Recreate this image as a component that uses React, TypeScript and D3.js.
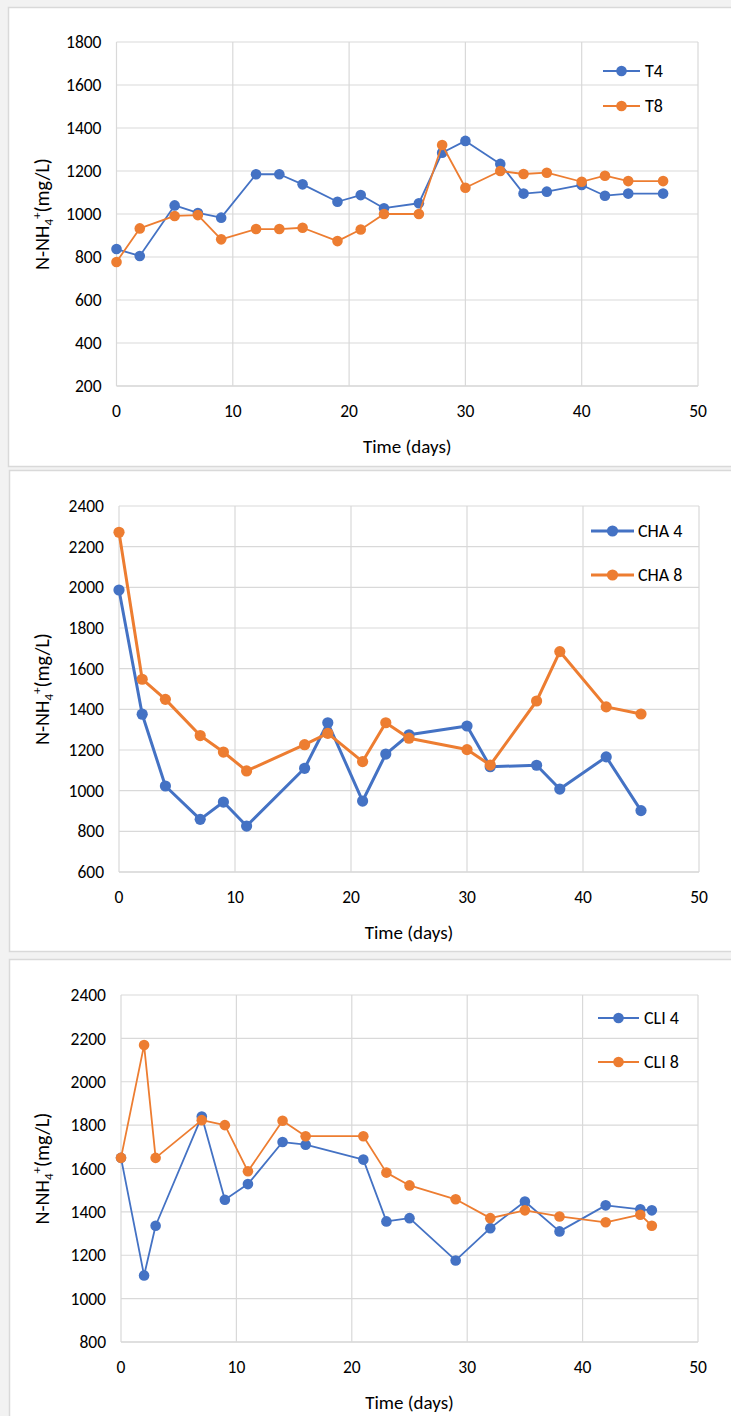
import * as d3 from 'd3';
import React, { useEffect, useRef } from 'react';

// --- data ---
const tDays = [0, 2, 5, 7, 9, 12, 14, 16, 19, 21, 23, 26, 28, 30, 33, 35, 37, 40, 42, 44, 47];
const t4Values = [837, 805, 1040, 1005, 983, 1185, 1185, 1138, 1057, 1088, 1027, 1050, 1285, 1340, 1233, 1095, 1104, 1135, 1085, 1095, 1095];
const t8Values = [777, 933, 991, 995, 882, 930, 930, 936, 874, 928, 1000, 1000, 1321, 1122, 1200, 1186, 1192, 1150, 1178, 1153, 1153];

const chaDays = [0, 2, 4, 7, 9, 11, 16, 18, 21, 23, 25, 30, 32, 36, 38, 42, 45];
const cha4Values = [1987, 1376, 1023, 859, 944, 826, 1110, 1334, 949, 1180, 1275, 1318, 1118, 1125, 1008, 1166, 902];
const cha8Values = [2271, 1548, 1449, 1271, 1190, 1097, 1226, 1282, 1143, 1334, 1258, 1202, 1126, 1441, 1684, 1412, 1377];

const cliDays = [0, 2, 3, 7, 9, 11, 14, 16, 21, 23, 25, 29, 32, 35, 38, 42, 45, 46];
const cli4Values = [1649, 1107, 1336, 1840, 1456, 1528, 1722, 1710, 1641, 1356, 1371, 1176, 1325, 1448, 1310, 1430, 1412, 1407];
const cli8Values = [1649, 2169, 1649, 1823, 1800, 1587, 1820, 1749, 1749, 1581, 1522, 1458, 1371, 1407, 1379, 1352, 1387, 1336];

const xTicks = [0, 10, 20, 30, 40, 50];
const yTicks1 = [200, 400, 600, 800, 1000, 1200, 1400, 1600, 1800];
const yTicks2 = [600, 800, 1000, 1200, 1400, 1600, 1800, 2000, 2200, 2400];
const yTicks3 = [800, 1000, 1200, 1400, 1600, 1800, 2000, 2200, 2400];

const BLUE = '#4472C4';
const ORANGE = '#ED7D31';
const FONT = "Carlito, Calibri, 'Liberation Sans', Arial, sans-serif";

const panels = [
    {
        frame: [8, 7, 466], left: 116.5, right: 698, top: 42, bottom: 386, yTicks: yTicks1,
        lineWidth: 1.8, r: 5.3, legend: { x1: 603, x2: 640, y: 71, gap: 35, tx: 645 },
        series: [
            { name: 'T4', days: tDays, values: t4Values, color: BLUE },
            { name: 'T8', days: tDays, values: t8Values, color: ORANGE },
        ],
    },
    {
        frame: [9, 470, 951], left: 119, right: 699, top: 506, bottom: 872, yTicks: yTicks2,
        lineWidth: 3, r: 5.6, legend: { x1: 591, x2: 634, y: 531, gap: 44, tx: 638 },
        series: [
            { name: 'CHA 4', days: chaDays, values: cha4Values, color: BLUE },
            { name: 'CHA 8', days: chaDays, values: cha8Values, color: ORANGE },
        ],
    },
    {
        frame: [9, 959, 1430], left: 121, right: 698, top: 995, bottom: 1342, yTicks: yTicks3,
        lineWidth: 1.8, r: 5.3, legend: { x1: 598, x2: 639, y: 1018, gap: 44, tx: 644 },
        series: [
            { name: 'CLI 4', days: cliDays, values: cli4Values, color: BLUE },
            { name: 'CLI 8', days: cliDays, values: cli8Values, color: ORANGE },
        ],
    },
];

const App = () => {
    const svgRef = useRef(null);

    useEffect(() => {
        const svg = d3.select(svgRef.current);
        svg.selectAll('*').remove();

        panels.forEach(p => {
            const g = svg.append('g');
            const [fx, fy, fb] = p.frame;

            // chart frame
            g.append('rect')
                .attr('x', fx + 0.5).attr('y', fy + 0.5)
                .attr('width', 760).attr('height', fb - fy)
                .attr('fill', 'white')
                .attr('stroke', '#d9d9d9')
                .attr('stroke-width', 1.5);

            const yDomain = d3.extent(p.yTicks);
            const x = d3.scaleLinear().domain([0, 50]).range([p.left, p.right]);
            const y = d3.scaleLinear().domain(yDomain).range([p.bottom, p.top]);

            // gridlines
            g.selectAll('.hgrid')
                .data(p.yTicks)
                .join('line')
                .attr('x1', p.left).attr('x2', p.right)
                .attr('y1', d => y(d)).attr('y2', d => y(d))
                .attr('stroke', d => d === yDomain[0] ? '#bfbfbf' : '#d9d9d9')
                .attr('stroke-width', 1.2);

            g.selectAll('.vgrid')
                .data(xTicks)
                .join('line')
                .attr('x1', d => x(d)).attr('x2', d => x(d))
                .attr('y1', p.top).attr('y2', p.bottom)
                .attr('stroke', '#d9d9d9')
                .attr('stroke-width', 1.2);

            // tick labels
            g.selectAll('.ylab')
                .data(p.yTicks)
                .join('text')
                .attr('x', p.left - 15)
                .attr('y', d => y(d))
                .attr('dy', '0.35em')
                .attr('text-anchor', 'end')
                .style('font-family', FONT)
                .style('font-size', '17.5px')
                .attr('fill', '#000')
                .text(d => d);

            g.selectAll('.xlab')
                .data(xTicks)
                .join('text')
                .attr('x', d => x(d))
                .attr('y', p.bottom + 25)
                .attr('dy', '0.35em')
                .attr('text-anchor', 'middle')
                .style('font-family', FONT)
                .style('font-size', '17.5px')
                .text(d => d);

            // axis titles
            g.append('text')
                .attr('x', (p.left + p.right) / 2)
                .attr('y', p.bottom + 60)
                .attr('dy', '0.35em')
                .attr('text-anchor', 'middle')
                .style('font-family', FONT)
                .style('font-size', '19px')
                .text('Time (days)');

            const yt = g.append('text')
                .attr('transform', `translate(49, ${(p.top + p.bottom) / 2}) rotate(-90)`)
                .attr('text-anchor', 'middle')
                .style('font-family', FONT)
                .style('font-size', '20px');
            yt.append('tspan').text('N-NH');
            yt.append('tspan').attr('dy', 4).style('font-size', '13px').text('4');
            yt.append('tspan').attr('dy', -12).style('font-size', '13px').text('+');
            yt.append('tspan').attr('dy', 8).text('(mg/L)');

            // series
            const line = d3.line()
                .x(d => x(d[0]))
                .y(d => y(d[1]));

            p.series.forEach(s => {
                const pts = s.days.map((d, i) => [d, s.values[i]]);
                g.append('path')
                    .datum(pts)
                    .attr('d', line)
                    .attr('fill', 'none')
                    .attr('stroke', s.color)
                    .attr('stroke-width', p.lineWidth)
                    .attr('stroke-linejoin', 'round');

                g.append('g')
                    .selectAll('circle')
                    .data(pts)
                    .join('circle')
                    .attr('cx', d => x(d[0]))
                    .attr('cy', d => y(d[1]))
                    .attr('r', p.r)
                    .attr('fill', s.color);
            });

            // legend
            p.series.forEach((s, i) => {
                const ly = p.legend.y + i * p.legend.gap;
                g.append('line')
                    .attr('x1', p.legend.x1).attr('x2', p.legend.x2)
                    .attr('y1', ly).attr('y2', ly)
                    .attr('stroke', s.color)
                    .attr('stroke-width', p.lineWidth);
                g.append('circle')
                    .attr('cx', (p.legend.x1 + p.legend.x2) / 2)
                    .attr('cy', ly)
                    .attr('r', p.r)
                    .attr('fill', s.color);
                g.append('text')
                    .attr('x', p.legend.tx)
                    .attr('y', ly)
                    .attr('dy', '0.35em')
                    .style('font-family', FONT)
                    .style('font-size', '18px')
                    .text(s.name);
            });
        });
    }, []);

    return (
        <svg
            ref={svgRef}
            width={731}
            height={1416}
            style={{ position: 'absolute', left: 0, top: 0, background: '#f2f2f2' }}
        ></svg>
    );
};

export default App;
